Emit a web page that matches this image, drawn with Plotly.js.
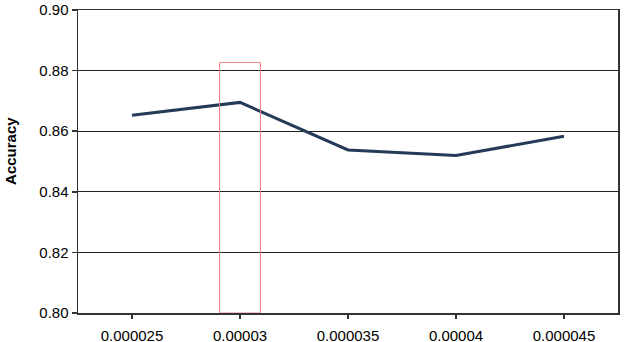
<!DOCTYPE html>
<html><head><meta charset="utf-8">
<script src="https://cdn.plot.ly/plotly-3.0.1.min.js"></script>
<style>body{margin:0;padding:0;background:#fff}#chart{width:624px;height:342px}</style>
</head><body><div id="chart"></div>
<script>
const categories = ["0.000025", "0.00003", "0.000035", "0.00004", "0.000045"];
const accuracy = [0.8653, 0.8695, 0.8538, 0.8520, 0.8583];
const yTicks = [0.80, 0.82, 0.84, 0.86, 0.88, 0.90];
const yTitle = "Accuracy";
const highlightIndex = 1;
const highlightTop = 0.8827;

const trace = {
  x: categories, y: accuracy, type: "scatter", mode: "lines",
  line: {color: "#253a58", width: 3}, hoverinfo: "skip"
};
const layout = {
  width: 624, height: 342,
  margin: {l: 78, r: 6, t: 10, b: 29},
  paper_bgcolor: "#fff", plot_bgcolor: "#fff",
  showlegend: false,
  font: {family: "Liberation Sans, Arial, sans-serif", size: 15, color: "#000"},
  xaxis: {
    type: "category", range: [-0.5, 4.5], showgrid: false,
    showline: true, linecolor: "#333", linewidth: 1.5, mirror: true,
    ticks: "outside", ticklen: 4, tickcolor: "#333", tickwidth: 1.5,
    tickfont: {size: 15}, zeroline: false, ticklabelstandoff: 4
  },
  yaxis: {
    range: [0.80, 0.90], tickvals: yTicks, ticktext: yTicks.map(v => v.toFixed(2)),
    showgrid: true, gridcolor: "#222", gridwidth: 1,
    showline: true, linecolor: "#333", linewidth: 1.5, mirror: true,
    ticks: "outside", ticklen: 5, tickcolor: "#333", tickwidth: 1.5,
    tickfont: {size: 15}, zeroline: false
  },
  annotations: [{
    text: "<b>" + yTitle + "</b>", textangle: -90, showarrow: false,
    xref: "paper", yref: "paper", x: -0.124, y: 0.535,
    xanchor: "center", yanchor: "middle", font: {size: 15, color: "#000"}
  }],
  shapes: [{
    type: "rect", xref: "x", yref: "y",
    x0: highlightIndex - 0.19, x1: highlightIndex + 0.19,
    y0: 0.80, y1: highlightTop,
    line: {color: "#e8848c", width: 1}, fillcolor: "rgba(0,0,0,0)"
  }]
};
Plotly.newPlot("chart", [trace], layout, {displayModeBar: false, staticPlot: true});
</script></body></html>
